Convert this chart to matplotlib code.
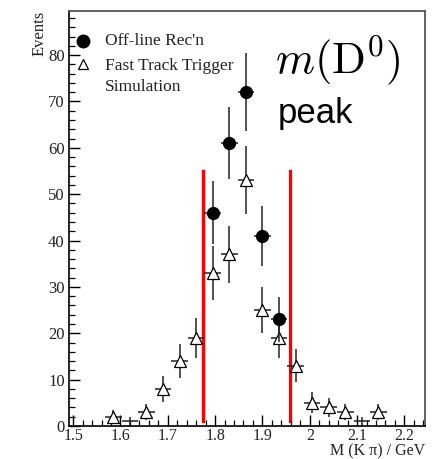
import numpy as np
import matplotlib
matplotlib.use("Agg")
import matplotlib.pyplot as plt
from matplotlib.ticker import MultipleLocator

# Bin centres of the K-pi invariant mass histogram (GeV)
bin_width = 0.035
sim_mass = [1.585, 1.620, 1.655, 1.690, 1.725, 1.760, 1.795, 1.830, 1.865,
            1.900, 1.935, 1.970, 2.005, 2.040, 2.075, 2.110, 2.145]
sim_counts = [2, 1, 3, 8, 14, 19, 33, 37, 53, 25, 19, 13, 5, 4, 3, 1, 3]

rec_mass = [1.795, 1.830, 1.865, 1.900, 1.935]
rec_counts = [46, 61, 72, 41, 23]

# Mass window used for the trigger selection
window = [1.774, 1.958]
window_height = (1, 55)

plt.rcParams["font.family"] = ["Liberation Serif", "DejaVu Serif"]
plt.rcParams["mathtext.fontset"] = "cm"

fig = plt.figure(figsize=(4.33, 4.59), dpi=100)
ax = fig.add_axes([0.159, 0.072, 0.822, 0.904])

sim_x = np.array(sim_mass)
sim_y = np.array(sim_counts, dtype=float)
rec_x = np.array(rec_mass)
rec_y = np.array(rec_counts, dtype=float)

# Simulation: error bars for every bin, open triangles where the bin is populated
ax.errorbar(sim_x, sim_y, yerr=np.sqrt(sim_y), xerr=bin_width / 2,
            fmt="none", ecolor="#222222", elinewidth=1.1, capsize=0, zorder=2)
shown = sim_y > 1
ax.plot(sim_x[shown], sim_y[shown], linestyle="none", marker="^",
        markersize=9, markerfacecolor="white", markeredgecolor="black",
        markeredgewidth=0.9, zorder=3)

# Off-line reconstruction: filled circles
ax.errorbar(rec_x, rec_y, yerr=np.sqrt(rec_y), xerr=bin_width / 2,
            fmt="o", color="black", markersize=8.5, ecolor="#222222",
            elinewidth=1.1, capsize=0, zorder=4)

# Mass window
for xw in window:
    ax.plot([xw, xw], window_height, color="red", linewidth=2.4, zorder=1)

ax.set_xlim(1.491, 2.243)
ax.set_ylim(0, 89.5)

ax.xaxis.set_minor_locator(MultipleLocator(0.02))
ax.yaxis.set_minor_locator(MultipleLocator(2))
ax.set_xticks(np.arange(1.5, 2.21, 0.1))
ax.set_xticklabels(["1.5", "1.6", "1.7", "1.8", "1.9", "2", "2.1", "2.2"])
ax.set_yticks(np.arange(0, 81, 10))

ax.tick_params(which="both", direction="in", top=False, right=False,
               labelsize=12, colors="black", labelcolor="#222222")
ax.tick_params(which="major", length=8, width=1.0, pad=3)
ax.tick_params(axis="x", which="major", pad=1.5, labelsize=11.5)
ax.tick_params(which="minor", length=4, width=0.9)

for side in ("top", "right"):
    ax.spines[side].set_color("#555555")
    ax.spines[side].set_linewidth(1.3)
for side in ("left", "bottom"):
    ax.spines[side].set_color("black")
    ax.spines[side].set_linewidth(1.2)

ax.set_xlabel("M (K \u03c0) / GeV", fontsize=11.5, color="#222222")
ax.xaxis.set_label_coords(1.0, -0.071)
ax.xaxis.label.set_horizontalalignment("right")
ax.xaxis.label.set_verticalalignment("baseline")
ax.set_ylabel("Events", fontsize=12, color="#222222")
ax.yaxis.set_label_coords(-0.105, 1.0)
ax.yaxis.label.set_verticalalignment("top")
ax.yaxis.label.set_horizontalalignment("right")

# Legend drawn by hand
ax.plot([0.04], [0.927], transform=ax.transAxes, marker="o", color="black",
        markersize=9, linestyle="none", clip_on=False)
ax.plot([0.04], [0.873], transform=ax.transAxes, marker="^",
        markerfacecolor="white", markeredgecolor="black", markersize=7.5,
        linestyle="none", markeredgewidth=0.9, clip_on=False)
ax.text(0.101, 0.927, "Off-line Rec'n", transform=ax.transAxes,
        fontsize=12.5, va="center", ha="left", color="#222222")
ax.text(0.101, 0.868, "Fast Track Trigger", transform=ax.transAxes,
        fontsize=12.5, va="center", ha="left", color="#222222")
ax.text(0.101, 0.818, "Simulation", transform=ax.transAxes,
        fontsize=12.5, va="center", ha="left", color="#222222")

ax.text(0.579, 0.882, r"$m(\mathrm{D}^0)$", transform=ax.transAxes,
        fontsize=32, va="center", ha="left", color="black")
ax.text(0.587, 0.752, "peak", transform=ax.transAxes,
        fontsize=25, va="center", ha="left", color="black",
        family=["Liberation Sans", "DejaVu Sans"])

fig.savefig("out.png", dpi=100)
